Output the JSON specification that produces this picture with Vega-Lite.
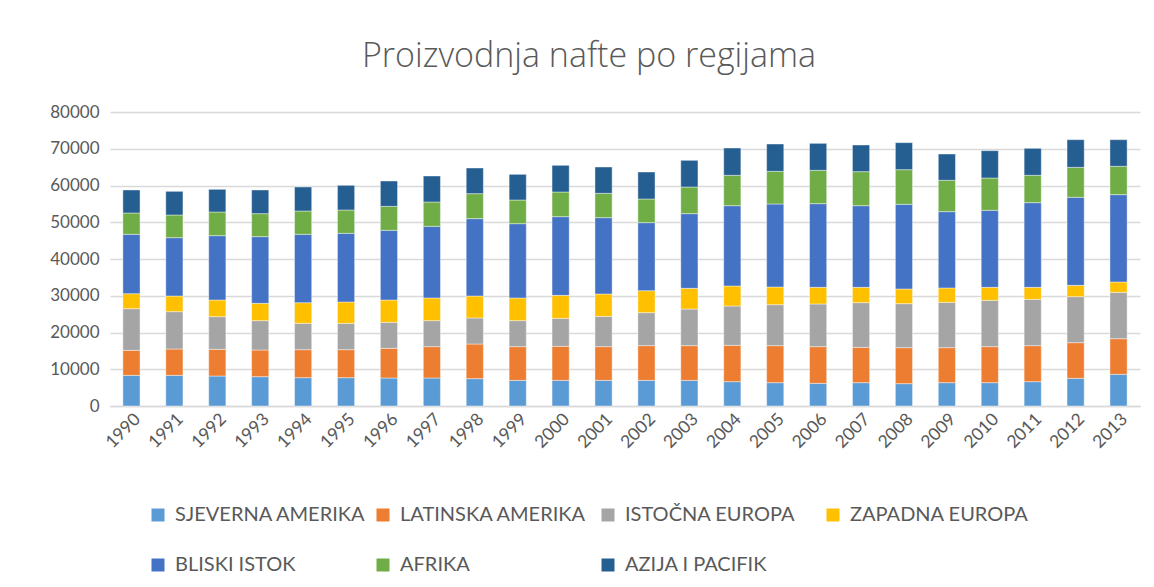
{
  "$schema": "https://vega.github.io/schema/vega-lite/v6.json",
  "autosize": "none",
  "width": 1030,
  "height": 294,
  "padding": {"left": 110, "top": 112, "right": 14, "bottom": 181},
  "background": "white",
  "title": {
    "text": "Proizvodnja nafte po regijama",
    "font": "Open Sans",
    "fontSize": 34,
    "fontWeight": 300,
    "color": "#595959",
    "anchor": "middle",
    "frame": "group",
    "dx": -36,
    "offset": 29
  },
  "data": {
    "values": [
      {"year": "1990", "SJEVERNA AMERIKA": 8340, "LATINSKA AMERIKA": 6810, "ISTOČNA EUROPA": 11340, "ZAPADNA EUROPA": 4080, "BLISKI ISTOK": 16140, "AFRIKA": 5810, "AZIJA I PACIFIK": 6260},
      {"year": "1991", "SJEVERNA AMERIKA": 8340, "LATINSKA AMERIKA": 7170, "ISTOČNA EUROPA": 10160, "ZAPADNA EUROPA": 4260, "BLISKI ISTOK": 15870, "AFRIKA": 6170, "AZIJA I PACIFIK": 6440},
      {"year": "1992", "SJEVERNA AMERIKA": 8160, "LATINSKA AMERIKA": 7260, "ISTOČNA EUROPA": 8890, "ZAPADNA EUROPA": 4530, "BLISKI ISTOK": 17510, "AFRIKA": 6440, "AZIJA I PACIFIK": 6170},
      {"year": "1993", "SJEVERNA AMERIKA": 7980, "LATINSKA AMERIKA": 7260, "ISTOČNA EUROPA": 7980, "ZAPADNA EUROPA": 4720, "BLISKI ISTOK": 18140, "AFRIKA": 6260, "AZIJA I PACIFIK": 6440},
      {"year": "1994", "SJEVERNA AMERIKA": 7710, "LATINSKA AMERIKA": 7620, "ISTOČNA EUROPA": 7160, "ZAPADNA EUROPA": 5630, "BLISKI ISTOK": 18590, "AFRIKA": 6350, "AZIJA I PACIFIK": 6530},
      {"year": "1995", "SJEVERNA AMERIKA": 7710, "LATINSKA AMERIKA": 7620, "ISTOČNA EUROPA": 7160, "ZAPADNA EUROPA": 5810, "BLISKI ISTOK": 18680, "AFRIKA": 6350, "AZIJA I PACIFIK": 6720},
      {"year": "1996", "SJEVERNA AMERIKA": 7620, "LATINSKA AMERIKA": 8070, "ISTOČNA EUROPA": 7080, "ZAPADNA EUROPA": 6070, "BLISKI ISTOK": 18960, "AFRIKA": 6530, "AZIJA I PACIFIK": 6890},
      {"year": "1997", "SJEVERNA AMERIKA": 7620, "LATINSKA AMERIKA": 8530, "ISTOČNA EUROPA": 7070, "ZAPADNA EUROPA": 6170, "BLISKI ISTOK": 19500, "AFRIKA": 6620, "AZIJA I PACIFIK": 7080},
      {"year": "1998", "SJEVERNA AMERIKA": 7440, "LATINSKA AMERIKA": 9430, "ISTOČNA EUROPA": 7080, "ZAPADNA EUROPA": 5980, "BLISKI ISTOK": 21050, "AFRIKA": 6800, "AZIJA I PACIFIK": 6980},
      {"year": "1999", "SJEVERNA AMERIKA": 6980, "LATINSKA AMERIKA": 9170, "ISTOČNA EUROPA": 7070, "ZAPADNA EUROPA": 6170, "BLISKI ISTOK": 20220, "AFRIKA": 6440, "AZIJA I PACIFIK": 6990},
      {"year": "2000", "SJEVERNA AMERIKA": 6980, "LATINSKA AMERIKA": 9260, "ISTOČNA EUROPA": 7610, "ZAPADNA EUROPA": 6260, "BLISKI ISTOK": 21410, "AFRIKA": 6710, "AZIJA I PACIFIK": 7260},
      {"year": "2001", "SJEVERNA AMERIKA": 6980, "LATINSKA AMERIKA": 9170, "ISTOČNA EUROPA": 8250, "ZAPADNA EUROPA": 6080, "BLISKI ISTOK": 20770, "AFRIKA": 6620, "AZIJA I PACIFIK": 7160},
      {"year": "2002", "SJEVERNA AMERIKA": 6980, "LATINSKA AMERIKA": 9440, "ISTOČNA EUROPA": 8980, "ZAPADNA EUROPA": 5980, "BLISKI ISTOK": 18510, "AFRIKA": 6440, "AZIJA I PACIFIK": 7340},
      {"year": "2003", "SJEVERNA AMERIKA": 6980, "LATINSKA AMERIKA": 9440, "ISTOČNA EUROPA": 9970, "ZAPADNA EUROPA": 5630, "BLISKI ISTOK": 20320, "AFRIKA": 7250, "AZIJA I PACIFIK": 7260},
      {"year": "2004", "SJEVERNA AMERIKA": 6620, "LATINSKA AMERIKA": 9890, "ISTOČNA EUROPA": 10700, "ZAPADNA EUROPA": 5440, "BLISKI ISTOK": 21860, "AFRIKA": 8260, "AZIJA I PACIFIK": 7430},
      {"year": "2005", "SJEVERNA AMERIKA": 6350, "LATINSKA AMERIKA": 10070, "ISTOČNA EUROPA": 11150, "ZAPADNA EUROPA": 4810, "BLISKI ISTOK": 22590, "AFRIKA": 8880, "AZIJA I PACIFIK": 7440},
      {"year": "2006", "SJEVERNA AMERIKA": 6170, "LATINSKA AMERIKA": 9980, "ISTOČNA EUROPA": 11610, "ZAPADNA EUROPA": 4530, "BLISKI ISTOK": 22770, "AFRIKA": 9070, "AZIJA I PACIFIK": 7340},
      {"year": "2007", "SJEVERNA AMERIKA": 6350, "LATINSKA AMERIKA": 9610, "ISTOČNA EUROPA": 12160, "ZAPADNA EUROPA": 4170, "BLISKI ISTOK": 22220, "AFRIKA": 9260, "AZIJA I PACIFIK": 7250},
      {"year": "2008", "SJEVERNA AMERIKA": 6080, "LATINSKA AMERIKA": 9790, "ISTOČNA EUROPA": 11980, "ZAPADNA EUROPA": 3990, "BLISKI ISTOK": 23040, "AFRIKA": 9430, "AZIJA I PACIFIK": 7350},
      {"year": "2009", "SJEVERNA AMERIKA": 6350, "LATINSKA AMERIKA": 9520, "ISTOČNA EUROPA": 12340, "ZAPADNA EUROPA": 3900, "BLISKI ISTOK": 20770, "AFRIKA": 8530, "AZIJA I PACIFIK": 7160},
      {"year": "2010", "SJEVERNA AMERIKA": 6350, "LATINSKA AMERIKA": 9800, "ISTOČNA EUROPA": 12600, "ZAPADNA EUROPA": 3540, "BLISKI ISTOK": 20950, "AFRIKA": 8800, "AZIJA I PACIFIK": 7440},
      {"year": "2011", "SJEVERNA AMERIKA": 6620, "LATINSKA AMERIKA": 9800, "ISTOČNA EUROPA": 12600, "ZAPADNA EUROPA": 3270, "BLISKI ISTOK": 23040, "AFRIKA": 7440, "AZIJA I PACIFIK": 7340},
      {"year": "2012", "SJEVERNA AMERIKA": 7530, "LATINSKA AMERIKA": 9700, "ISTOČNA EUROPA": 12520, "ZAPADNA EUROPA": 3080, "BLISKI ISTOK": 23950, "AFRIKA": 8160, "AZIJA I PACIFIK": 7530},
      {"year": "2013", "SJEVERNA AMERIKA": 8620, "LATINSKA AMERIKA": 9700, "ISTOČNA EUROPA": 12610, "ZAPADNA EUROPA": 2810, "BLISKI ISTOK": 23770, "AFRIKA": 7710, "AZIJA I PACIFIK": 7250}
    ]
  },
  "transform": [
    {"fold": ["SJEVERNA AMERIKA", "LATINSKA AMERIKA", "ISTOČNA EUROPA", "ZAPADNA EUROPA", "BLISKI ISTOK", "AFRIKA", "AZIJA I PACIFIK"], "as": ["region", "value"]},
    {"lookup": "region", "from": {"data": {"values": [
      {"region": "SJEVERNA AMERIKA", "o": 1},
      {"region": "LATINSKA AMERIKA", "o": 2},
      {"region": "ISTOČNA EUROPA", "o": 3},
      {"region": "ZAPADNA EUROPA", "o": 4},
      {"region": "BLISKI ISTOK", "o": 5},
      {"region": "AFRIKA", "o": 6},
      {"region": "AZIJA I PACIFIK", "o": 7}
    ]}, "key": "region", "fields": ["o"]}}
  ],
  "mark": {"type": "bar", "stroke": "white", "strokeWidth": 0.6, "strokeOpacity": 0.7},
  "encoding": {
    "x": {
      "field": "year",
      "type": "ordinal",
      "title": null,
      "scale": {"paddingInner": 0.6, "paddingOuter": 0.3},
      "axis": {
        "labelAngle": -45,
        "labelFont": "Lato",
        "labelFontSize": 17.5,
        "labelColor": "#595959",
        "labelPadding": 4,
        "ticks": false,
        "domainColor": "#d9d9d9",
        "domainWidth": 1.3
      }
    },
    "y": {
      "field": "value",
      "type": "quantitative",
      "stack": "zero",
      "title": null,
      "scale": {"domain": [0, 80000], "nice": false},
      "axis": {
        "values": [0, 10000, 20000, 30000, 40000, 50000, 60000, 70000, 80000],
        "format": "d",
        "labelFont": "Lato",
        "labelFontSize": 17,
        "labelColor": "#595959",
        "labelPadding": 11,
        "ticks": false,
        "domain": false,
        "gridColor": "#d9d9d9",
        "gridWidth": 1.3
      }
    },
    "order": {"field": "o", "type": "quantitative", "sort": "ascending"},
    "color": {
      "field": "region",
      "type": "nominal",
      "scale": {
        "domain": ["SJEVERNA AMERIKA", "LATINSKA AMERIKA", "ISTOČNA EUROPA", "ZAPADNA EUROPA", "BLISKI ISTOK", "AFRIKA", "AZIJA I PACIFIK"],
        "range": ["#5B9BD5", "#ED7D31", "#A5A5A5", "#FFC000", "#4472C4", "#70AD47", "#255E91"]
      },
      "legend": {
        "title": null,
        "orient": "none",
        "legendX": 38,
        "legendY": 393,
        "direction": "horizontal",
        "columns": 4,
        "gridAlign": "all",
        "columnPadding": 7,
        "rowPadding": 30,
        "symbolType": "square",
        "symbolSize": 169,
        "symbolStrokeWidth": 0,
        "labelFont": "Lato",
        "labelFontSize": 20,
        "labelColor": "#595959",
        "labelOffset": 7,
        "labelLimit": 400
      }
    }
  },
  "config": {"view": {"stroke": null}}
}
